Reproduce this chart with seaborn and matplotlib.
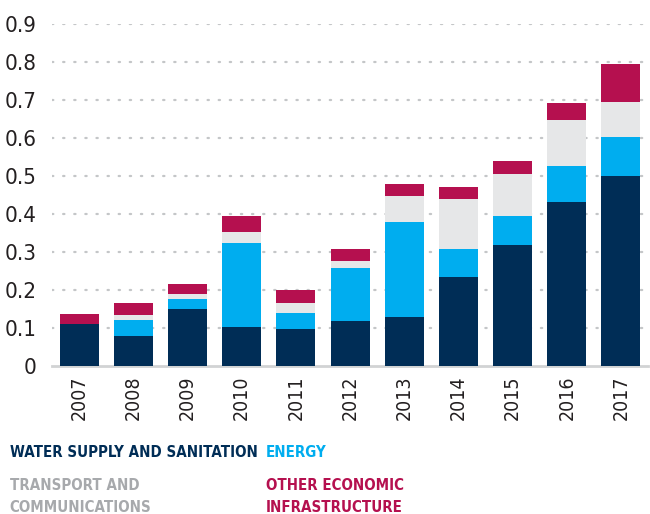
import matplotlib
matplotlib.use("Agg")
import matplotlib.pyplot as plt
from matplotlib.ticker import FixedLocator
import seaborn as sns
import pandas as pd
import numpy as np

years = ["2007", "2008", "2009", "2010", "2011", "2012",
         "2013", "2014", "2015", "2016", "2017"]
water = [0.110, 0.079, 0.150, 0.103, 0.097, 0.118, 0.129, 0.234, 0.318, 0.432, 0.500]
energy = [0.000, 0.042, 0.026, 0.221, 0.042, 0.140, 0.250, 0.074, 0.077, 0.094, 0.103]
transport = [0.000, 0.013, 0.013, 0.029, 0.027, 0.018, 0.068, 0.131, 0.110, 0.121, 0.092]
other = [0.027, 0.032, 0.027, 0.042, 0.034, 0.032, 0.032, 0.032, 0.034, 0.045, 0.100]
yticks = [0, 0.1, 0.2, 0.3, 0.4, 0.5, 0.6, 0.7, 0.8, 0.9]

series = ["WATER SUPPLY AND SANITATION", "ENERGY",
          "TRANSPORT AND", "COMMUNICATIONS",
          "OTHER ECONOMIC", "INFRASTRUCTURE"]
bar_colors = ["#002D56", "#00ADEF", "#E6E7E8", "#B5104F"]
text_colors = ["#002D56", "#00ADEF", "#A7A9AC", "#A7A9AC", "#B5104F", "#B5104F"]

sns.set_theme(style="white")
plt.rcParams["font.family"] = ["DejaVu Sans"]
plt.rcParams["font.stretch"] = "condensed"

df = pd.DataFrame({"year": years, "water": water, "energy": energy,
                   "transport": transport, "other": other})
stack = df[["water", "energy", "transport", "other"]].cumsum(axis=1)

fig = plt.figure(figsize=(6.5, 5.14), dpi=100)
ax = fig.add_axes([0.080, 0.288, 0.917, 0.665])

# Draw cumulative totals from the top layer down so each layer shows its own band
for col, color in zip(["other", "transport", "energy", "water"], bar_colors[::-1]):
    sns.barplot(x=df["year"], y=stack[col], color=color, saturation=1,
                width=0.72, ax=ax, order=years, zorder=3, linewidth=0)

ax.set_xlim(-0.5, len(years) - 0.5)
ax.set_ylim(0, 0.9)
ax.set_yticks(yticks)
ax.set_yticklabels(["0" if v == 0 else f"{v:.1f}" for v in yticks])
ax.set_xlabel("")
ax.set_ylabel("")

for v in yticks[1:]:
    ax.axhline(v, color="#C4C6C8", linestyle=(0, (0.6, 4.4)), linewidth=1.6,
               dash_capstyle="round", zorder=1)

for s in ["top", "right", "left"]:
    ax.spines[s].set_visible(False)
ax.spines["bottom"].set_color("#D1D3D4")
ax.spines["bottom"].set_linewidth(2)

ax.tick_params(axis="y", length=0, pad=11, labelsize=16, labelcolor="#231F20")
ax.tick_params(axis="x", which="major", length=0, pad=7, labelsize=14,
               labelcolor="#231F20", labelrotation=90)
ax.xaxis.set_minor_locator(FixedLocator(np.arange(-0.5, len(years), 1.0)))
ax.tick_params(axis="x", which="minor", direction="in", length=11, width=2,
               color="#D1D3D4")

# Series labels under the chart, sized so the longest one spans ~248 px
positions = [(0.015, 0.111), (0.409, 0.111), (0.015, 0.047),
             (0.015, 0.003), (0.409, 0.047), (0.409, 0.003)]
texts = []
for label, color, (x, y) in zip(series, text_colors, positions):
    texts.append(fig.text(x, y, label, color=color, fontsize=14,
                          fontweight="bold", va="baseline", ha="left"))
renderer = fig.canvas.get_renderer()
w = texts[0].get_window_extent(renderer).width
fs = 14 * 248.0 / w
for t in texts:
    t.set_fontsize(fs)

fig.savefig("out.png", dpi=100)
